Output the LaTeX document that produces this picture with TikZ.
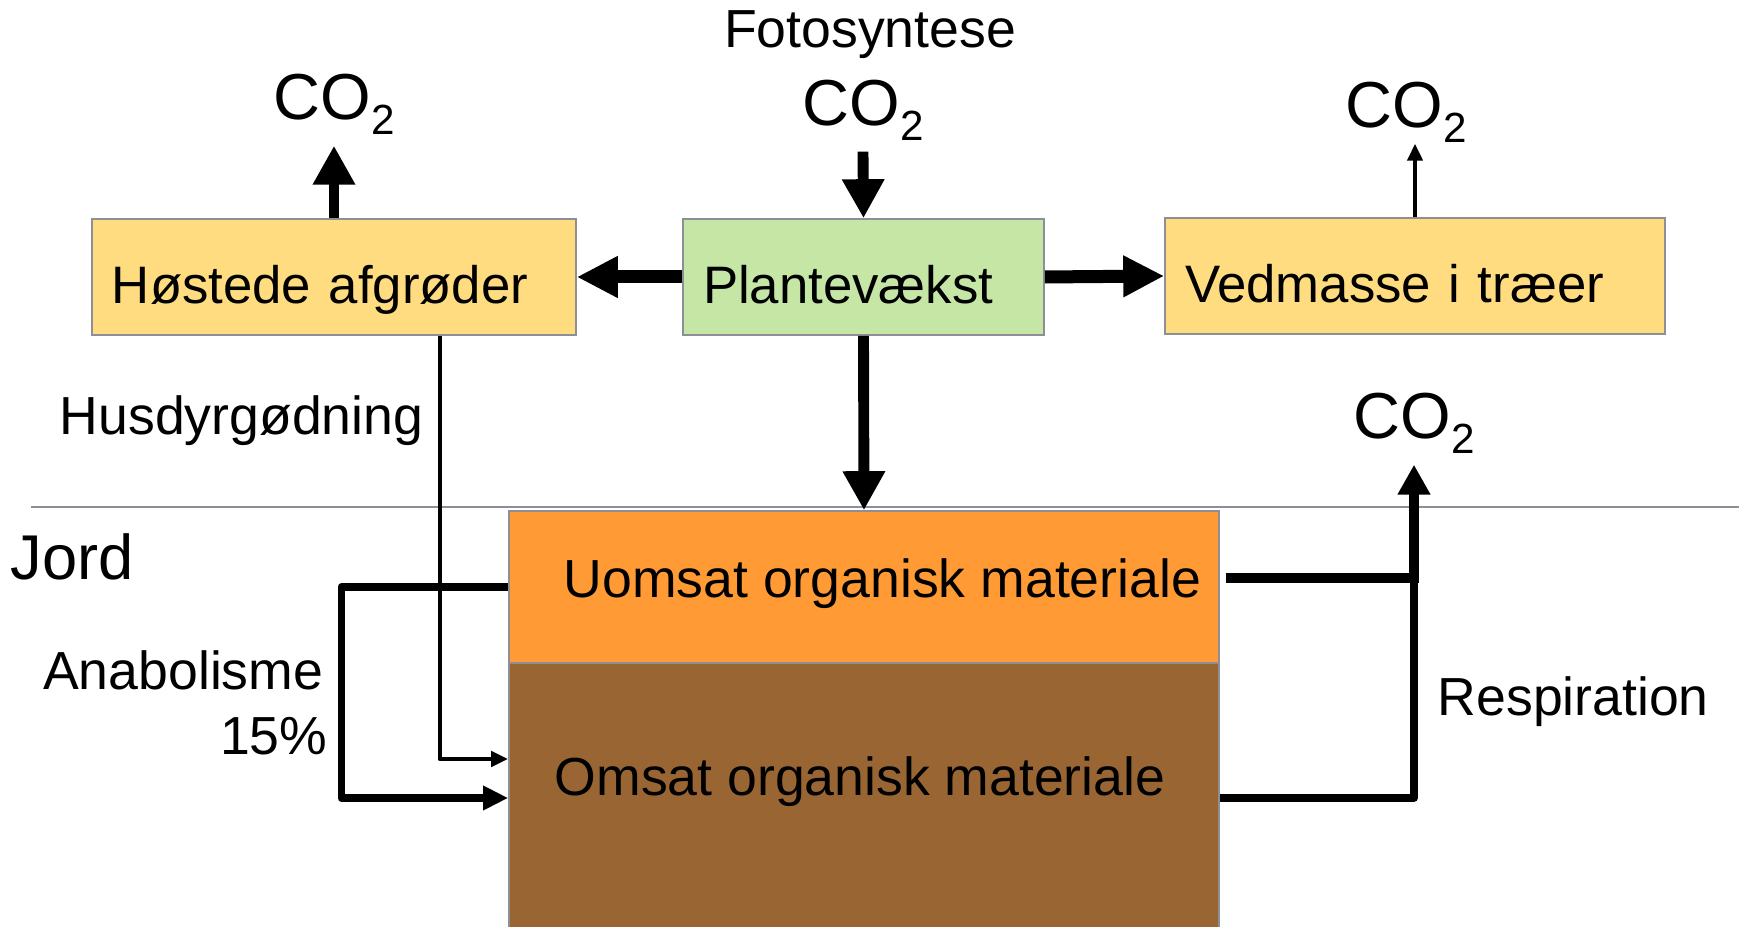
\documentclass[tikz,border=0pt]{standalone}
\usepackage{fontspec}
\setmainfont{Liberation Sans}
\usepackage{xcolor}
\usepackage{tikz}
\usetikzlibrary{arrows.meta,positioning}

\definecolor{cropfill}{HTML}{FFDC80}
\definecolor{plantfill}{HTML}{C6E6A6}
\definecolor{freshfill}{HTML}{FF9A35}
\definecolor{soilfill}{HTML}{996633}
\definecolor{edgegray}{HTML}{8E8E96}

\newcommand{\cotwo}{CO\raisebox{-0.15cm}{\fontsize{12}{14}\selectfont 2}}

\begin{document}
\begin{tikzpicture}[every node/.style={font=\fontsize{15.25}{18}\selectfont},
    stockbox/.style={draw=edgegray, line width=0.45pt, minimum height=1.16cm,
      font=\fontsize{15}{18}\selectfont,
      inner xsep=0.2cm, align=left, text height=0.53cm, text depth=0pt},
    soilbox/.style={draw=edgegray, line width=0.45pt, minimum width=7.10cm, inner sep=0pt},
    tag/.style={inner sep=0pt},
    gas/.style={font=\fontsize{18.5}{22}\selectfont, anchor=base, inner sep=0.1cm},
    bigflow/.style={line width=3.7pt, -{Triangle[length=0.41cm,width=0.39cm]}},
    midflow/.style={line width=3.1pt, -{Triangle[length=0.39cm,width=0.40cm]}},
    respflow/.style={line width=2.85pt, -{Triangle[length=0.30cm,width=0.31cm]}},
    anaflow/.style={line width=2.1pt, line join=round, -{Triangle[length=0.25cm,width=0.23cm]}},
    thinflow/.style={line width=1.4pt, line join=round, -{Triangle[length=0.17cm,width=0.15cm]}}]
  \useasboundingbox (0,0) rectangle (17.46,9.27);

  % ground surface
  \draw[edgegray, line width=0.45pt] (0.31,4.20) -- (17.39,4.20);

  % stocks above ground
  \node[stockbox, fill=cropfill, text width=4.44cm] (host) at (3.34,6.50) {Høstede afgrøder};
  \node[stockbox, fill=plantfill, text width=3.21cm] (plant) at (8.635,6.50) {Plantevækst};
  \node[stockbox, fill=cropfill, text width=4.60cm] (ved) at (14.15,6.51) {Vedmasse i træer};

  % soil pools
  \node[soilbox, fill=freshfill, minimum height=1.52cm] (ubox) at (8.64,3.40) {};
  \node[soilbox, fill=soilfill, minimum height=2.70cm] (soil) at (8.64,1.29) {};
  \node[tag, anchor=base west] (utext) at (5.63,3.29) {Uomsat organisk materiale};
  \node[tag, anchor=base west] (otext) at (5.54,1.31) {Omsat organisk materiale};

  % labels
  \node[tag, anchor=base] (foto) at (8.70,8.79) {Fotosyntese};
  \node[gas] (co2host) at (3.34,8.07) {\cotwo};
  \node[gas] (co2plant) at (8.63,8.01) {\cotwo};
  \node[gas] (co2ved) at (14.06,7.99) {\cotwo};
  \node[gas] (co2soil) at (14.14,4.88) {\cotwo};
  \node[tag, anchor=base east] (manure) at (4.24,4.92) {Husdyrgødning};
  \node[tag, anchor=base west, font=\fontsize{18}{22}\selectfont] (jord) at (0.10,3.47) {Jord};
  \node[tag, anchor=base east] (anab) at (3.24,2.37) {Anabolisme};
  \node[tag, anchor=base east] (pct) at (3.28,1.72) {15\%};
  \node[tag, anchor=base west] (resp) at (14.37,2.11) {Respiration};

  % flows above ground
  \draw[midflow] (co2plant.south) -- (plant.north);
  \draw[midflow] (host.north) -- (host.north |- co2host.south);
  \draw[thinflow, line width=1.3pt, shorten >=-0.1cm] (ved.north) -- (ved.north |- co2ved.south);
  \draw[bigflow] (plant.west) -- (host.east);
  \draw[bigflow] (plant.east) -- (ved.west);
  \draw[midflow] (plant.south) -- (ubox.north);

  % flows in the soil
  \draw[thinflow] ([xshift=1.06cm]host.south) |- ([yshift=0.39cm]soil.west);
  \draw[anaflow] (ubox.west) -| ([xshift=-1.67cm]soil.west) -- (soil.west);
  \coordinate (split) at ([xshift=0.06cm,yshift=0.09cm]ubox.east);
  \draw[respflow] (split) -| (co2soil.south);
  \draw[line width=2.1pt, line join=round] (soil.east) -| (split -| co2soil.south);
\end{tikzpicture}
\end{document}
